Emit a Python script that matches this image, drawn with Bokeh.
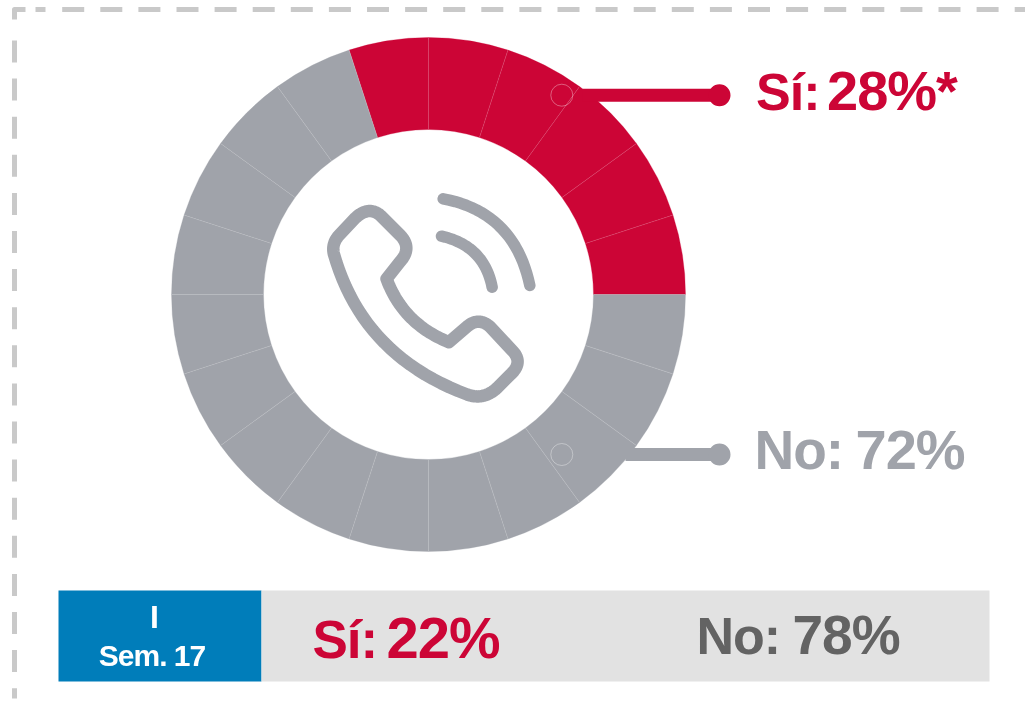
from bokeh.plotting import figure
from bokeh.embed import file_html
from bokeh.resources import INLINE
from bokeh.models import Range1d
from bokeh.core.properties import value
import numpy as np

segment_share = 5          # each ring block is 5 % of the circle
blocks_si = 6
blocks_no = 14
label_si = ["Sí:", "28%*"]
label_no = ["No:", "72%"]
prev_si = ["Sí:", "22%"]
prev_no = ["No:", "78%"]
period = ["I", "Sem. 17"]

RED = "#cc0536"; GREY = "#a0a3aa"; BLUE = "#007dba"; BAND = "#e2e2e2"; DARK = "#636363"; DASH = "#c9c9c9"
W, H = 1025, 705
Y = lambda v: H - np.asarray(v, dtype=float)
CX, CY, R0, R1 = 428, 294, 165, 257

p = figure(width=W, height=H, output_backend="svg", toolbar_location=None,
           x_range=Range1d(0, W), y_range=Range1d(0, H), min_border=0,
           outline_line_color=None, background_fill_color="white",
           styles={"position": "fixed", "left": "0px", "top": "0px", "letter-spacing": "-1px"})
p.axis.visible = False
p.grid.visible = False

# dashed frame
p.line([14, 14, 25], Y([19, 9, 9]), line_color=DASH, line_width=5, line_join="round")
p.line([35, 45], Y([9, 9]), line_color=DASH, line_width=5)
xs = np.arange(61.7, 1025, 38.1)
p.segment(xs, Y(9 + 0 * xs), np.minimum(xs + 22, 1025), Y(9 + 0 * xs), line_color=DASH, line_width=5)
ys = np.arange(40, 698, 38.1)
p.segment(14 + 0 * ys, Y(ys), 14 + 0 * ys, Y(np.minimum(ys + 22, 698)), line_color=DASH, line_width=5)

# ring
shares = np.array([segment_share] * (blocks_si + blocks_no), dtype=float)
edges = np.concatenate([[0], np.cumsum(shares)]) / 100 * 2 * np.pi
colors = [RED] * blocks_si + [GREY] * blocks_no
p.annular_wedge([CX] * len(shares), Y([CY] * len(shares)), R0, R1, edges[:-1], edges[1:],
                fill_color=colors, line_color=colors, line_width=0.3)
p.segment(CX + R0 * np.cos(edges[:-1]), H - CY + R0 * np.sin(edges[:-1]),
          CX + R1 * np.cos(edges[:-1]), H - CY + R1 * np.sin(edges[:-1]),
          line_color="#ffffff", line_alpha=0.3, line_width=0.5)

# leaders
for c, yy, x0 in [(RED, 94.7, 582), (GREY, 454, 625)]:
    p.line([x0, 719], Y([yy, yy]), line_color=c, line_width=13)
    p.scatter([719], Y([yy]), size=22, fill_color=c, line_color=None)
    p.scatter([561.3], Y([yy]), size=22, fill_color=None, line_color="#ffffff", line_alpha=0.35, line_width=1)

# phone icon (outline traced in a 3x crop whose corner is at 300,170)
def q(a, c, b, n=24):
    t = np.linspace(0, 1, n)[:, None]
    a, c, b = map(np.array, (a, c, b))
    return (1-t)**2 * a + 2*t*(1-t) * c + t**2 * b

def icon(*parts):
    pts = np.vstack(parts)
    return 300 + pts[:, 0] / 3, H - (170 + pts[:, 1] / 3)

outline = icon(
    [(258, 325)], q((258, 325), (308, 460), (445, 515)),
    q((500, 468), (535, 438), (570, 470)),
    q((635, 540), (670, 575), (630, 612)),
    q((590, 652), (550, 690), (500, 672)),
    q((500, 672), (186, 555), (100, 250)),
    q((100, 250), (93, 220), (115, 195)),
    q((165, 142), (205, 105), (240, 135)),
    q((300, 195), (335, 232), (300, 272)),
    [(258, 325)])
p.line(*outline, line_color=GREY, line_width=12.5, line_cap="round", line_join="round")
for a, c, b in [((428, 85), (642, 125), (688, 345)), ((423, 197), (551, 226), (575, 350))]:
    p.line(*icon(q(a, c, b)), line_color=GREY, line_width=11.5, line_cap="round", line_join="round")

# bottom band
p.quad(left=[58], right=[261], bottom=Y([681]), top=Y([590]), fill_color=BLUE, line_color=None)
p.quad(left=[261], right=[989], bottom=Y([681]), top=Y([590]), fill_color=BAND, line_color=None)

def txt(s, x, base, size, color, align="left"):
    p.text([x], Y([base - 0.34 * size]), text=[s], text_font=value("Liberation Sans"), text_font_style="bold",
           text_font_size=f"{size}px", text_color=color, text_align=align, text_baseline="alphabetic")

txt(label_si[0], 755.5, 109, 52, RED)
txt(label_si[1], 826.5, 109, 56, RED)
txt(label_no[0], 754, 468, 55, GREY)
txt(label_no[1], 855, 468, 56, GREY)
txt(prev_si[0], 312, 657, 53, RED)
txt(prev_si[1], 386, 657, 58, RED)
txt(prev_no[0], 696, 653, 52, DARK)
txt(prev_no[1], 792, 653, 55, DARK)
txt(period[0], 154, 627, 32, "#ffffff", "center")
txt(period[1], 155, 665, 30, "#ffffff", "center")

open("out.html", "w").write(file_html(p, INLINE))
